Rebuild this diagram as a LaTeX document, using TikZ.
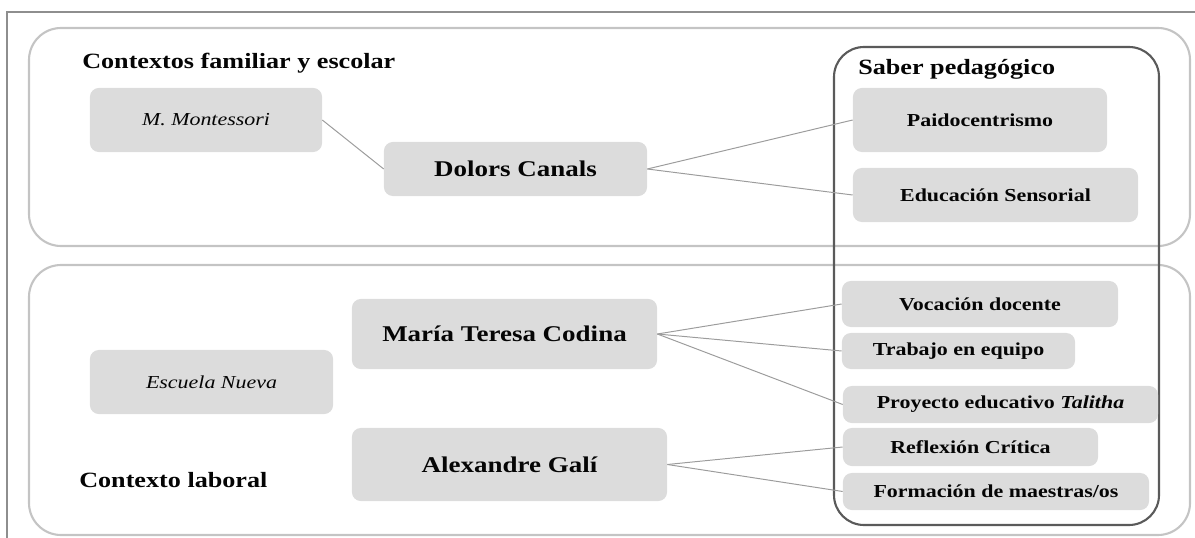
\documentclass[tikz,border=0pt]{standalone}
\usepackage{fontspec}
\setmainfont{Liberation Serif}[FakeStretch=1.2]
\usepackage{xcolor}
\definecolor{boxfill}{HTML}{DCDCDC}
\definecolor{ctxline}{HTML}{C4C4C4}
\definecolor{saberline}{HTML}{5A5A5A}
\definecolor{linkgray}{HTML}{9C9C9C}
\definecolor{framegray}{HTML}{8E8E8E}
\definecolor{txtdark}{HTML}{050505}
\usetikzlibrary{positioning}
\tikzset{
  ctxbox/.style  ={draw=ctxline, line width=1.5pt, rounded corners=0.8cm},
  saberbox/.style={draw=saberline, line width=1.5pt, rounded corners=0.75cm},
  pbox/.style ={rectangle, rounded corners=0.22cm, fill=boxfill, inner sep=0pt, text=txtdark,
                align=center, font=\fontsize{16}{19}\selectfont\bfseries},
  ibox/.style ={rectangle, rounded corners=0.22cm, fill=boxfill, inner sep=0pt, text=txtdark,
                align=center, font=\fontsize{13}{16}\selectfont\itshape},
  cbox/.style ={rectangle, rounded corners=0.22cm, fill=boxfill, inner sep=0pt, text=txtdark,
                align=center, font=\fontsize{13}{16}\selectfont\bfseries},
  ctxlbl/.style={anchor=base west, inner sep=0pt, text=txtdark, font=\fontsize{15.5}{18}\selectfont\bfseries},
  plink/.style={line width=0.7pt, color=linkgray},
}

\begin{document}
\begin{tikzpicture}[x=0.025cm, y=-0.025cm]
  \useasboundingbox (0,0) rectangle (1195,538);
  \draw[framegray, line width=1.4pt] (1195,12) -- (7,12) -- (7,538);
  % contextos
  \draw[ctxbox] (29,28) rectangle (1190,246);
  \draw[ctxbox] (29,265) rectangle (1190,535);
  \draw[saberbox] (834,47) rectangle (1159,525);
  \node[ctxlbl] (fam) at (82,69) {Contextos familiar y escolar};
  \node[ctxlbl] (lab) at (79,487) {Contexto laboral};
  \node[ctxlbl] (sab) at (858,75) {Saber pedagógico};
  % personas e influencias
  \node[ibox, minimum width=5.8cm, minimum height=1.6cm] (mont) at (206,120) {M. Montessori};
  \node[pbox, minimum width=6.575cm, minimum height=1.35cm] (dolors) at (515.5,169) {Dolors Canals};
  \node[ibox, minimum width=6.075cm, minimum height=1.6cm] (escuela) at (211.5,382) {Escuela Nueva};
  \node[pbox, minimum width=7.625cm, minimum height=1.75cm] (codina) at (504.5,334) {María Teresa Codina};
  \node[pbox, minimum width=7.875cm, minimum height=1.825cm] (gali) at (509.5,464.5) {Alexandre Galí};
  % saber pedagogico
  \node[cbox, minimum width=6.35cm, minimum height=1.6cm] (paido) at (980,120) {Paidocentrismo};
  \node[cbox, minimum width=7.125cm, minimum height=1.35cm] (sens) at (995.5,195) {Educación Sensorial};
  \node[cbox, minimum width=6.9cm, minimum height=1.15cm] (voc) at (980,304) {Vocación docente};
  \node[cbox, minimum width=5.825cm, minimum height=0.9cm] (trab) at (958.5,351) {Trabajo en equipo};
  \node[cbox, minimum width=7.875cm, minimum height=0.925cm] (proy) at (1000.5,404.5) {Proyecto educativo \textit{Talitha}};
  \node[cbox, minimum width=6.375cm, minimum height=0.95cm] (refl) at (970.5,447) {Reflexión Crítica};
  \node[cbox, minimum width=7.65cm, minimum height=0.925cm] (form) at (996,491.5) {Formación de maestras/os};
  % enlaces
  \draw[plink] (mont.east) -- (dolors.west);
  \draw[plink] (dolors.east) -- (paido.west);
  \draw[plink] (dolors.east) -- (sens.west);
  \draw[plink] (codina.east) -- (voc.west);
  \draw[plink] (codina.east) -- (trab.west);
  \draw[plink] (codina.east) -- (proy.west);
  \draw[plink] (gali.east) -- (refl.west);
  \draw[plink] (gali.east) -- (form.west);
\end{tikzpicture}
\end{document}
